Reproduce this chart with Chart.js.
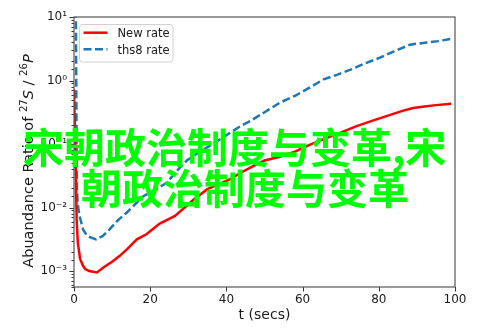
<!DOCTYPE html>
<html>
<head>
<meta charset="utf-8">
<script src="https://cdn.jsdelivr.net/npm/chart.js@4/dist/chart.umd.min.js"></script>
<style>
  html, body { margin: 0; padding: 0; background: #ffffff; }
  #wrap { width: 493px; height: 329px; }
</style>
</head>
<body>
<div id="wrap"><canvas id="chart" width="493" height="329"></canvas></div>
<script>
// Abundance ratio of 27S / 26P over time for two rate sets.
const newRateTimes = [0, 0.3, 0.7, 1, 1.6, 2.4, 3, 4, 6, 8, 10, 12, 14, 16.5, 19, 22.5, 26.5, 29, 31.5, 35, 38, 41, 44, 47, 50, 54, 58, 62, 66, 70, 74, 78, 82, 86, 89, 92, 95, 99];
const newRateValues = [0.72, 0.126, 0.0063, 0.0028, 0.00155, 0.0012, 0.00107, 0.001, 0.00095, 0.00117, 0.0014, 0.00174, 0.00224, 0.00316, 0.0038, 0.0056, 0.0074, 0.01, 0.0135, 0.0195, 0.0234, 0.028, 0.036, 0.045, 0.055, 0.063, 0.076, 0.098, 0.123, 0.151, 0.19, 0.23, 0.275, 0.33, 0.37, 0.39, 0.41, 0.43];

const ths8Times = [0.45, 0.75, 1.0, 1.4, 2.4, 3.5, 5.8, 7.5, 9.4, 11.5, 13.8, 16, 18.2, 21.7, 24.5, 27, 29.6, 33, 37, 41, 43.6, 46.2, 50, 54, 58, 61, 65.5, 69, 72.6, 76, 80.3, 84, 88.2, 92.6, 95.5, 99];
const ths8Values = [30, 0.02, 0.0112, 0.00759, 0.00447, 0.00355, 0.00316, 0.00355, 0.00457, 0.0063, 0.0083, 0.0112, 0.0151, 0.0195, 0.0251, 0.038, 0.055, 0.0759, 0.105, 0.151, 0.19, 0.229, 0.316, 0.447, 0.575, 0.724, 1.04, 1.23, 1.48, 1.82, 2.29, 2.88, 3.67, 3.98, 4.17, 4.52];

const seriesLabels = ['New rate', 'ths8 rate'];
const xTickStep = 20;
const xRange = [0, 100];
const yRange = [0.000562, 10];
const overlayLines = ['宋朝政治制度与变革,宋', '朝政治制度与变革'];

const SUP = { '-': '⁻', '0': '⁰', '1': '¹', '2': '²', '3': '³', '4': '⁴', '5': '⁵', '6': '⁶', '7': '⁷', '8': '⁸', '9': '⁹' };
const toSup = (n) => String(n).split('').map(c => SUP[c]).join('');

const toPoints = (xs, ys) => xs.map((x, i) => ({ x: x, y: ys[i] }));

const isDecade = (v) => {
  const e = Math.log10(v);
  return Math.abs(e - Math.round(e)) < 1e-6;
};

const TEXT = '#1a1a1a';
const FONT = '"DejaVu Sans", sans-serif';

// Frame, tick marks, axis titles and legend box.
const decorations = {
  id: 'decorations',
  beforeDatasetsDraw(chart) {
    const { ctx, chartArea: a, scales } = chart;
    ctx.save();
    ctx.strokeStyle = '#333';
    ctx.lineWidth = 1;
    // y tick marks (major long, minor short), outward
    scales.y.ticks.forEach(t => {
      if (t.value < yRange[0] || t.value > yRange[1]) return;
      const py = Math.round(scales.y.getPixelForValue(t.value)) + 0.5;
      const len = isDecade(t.value) ? 4.5 : 2.5;
      ctx.beginPath();
      ctx.moveTo(a.left, py);
      ctx.lineTo(a.left - len, py);
      ctx.stroke();
    });
    // x tick marks
    scales.x.ticks.forEach(t => {
      const px = Math.round(scales.x.getPixelForValue(t.value)) + 0.5;
      ctx.beginPath();
      ctx.moveTo(px, a.bottom);
      ctx.lineTo(px, a.bottom + 4.5);
      ctx.stroke();
    });
    ctx.restore();
  },
  afterDatasetsDraw(chart) {
    const { ctx, chartArea: a } = chart;
    ctx.save();
    // frame
    ctx.strokeStyle = '#555';
    ctx.lineWidth = 1.2;
    ctx.strokeRect(a.left, a.top, a.right - a.left, a.bottom - a.top);

    // legend
    const bx = 79, by = 24, bw = 93.5, bh = 37.5, r = 3;
    ctx.fillStyle = 'rgba(255,255,255,0.85)';
    ctx.strokeStyle = '#d0d0d0';
    ctx.lineWidth = 1;
    ctx.beginPath();
    ctx.roundRect(bx + 0.5, by + 0.5, bw, bh, r);
    ctx.fill();
    ctx.stroke();
    chart.data.datasets.forEach((ds, i) => {
      const ly = 32.7 + i * 16.6;
      ctx.strokeStyle = ds.borderColor;
      ctx.lineWidth = ds.borderWidth;
      ctx.setLineDash(ds.borderDash || []);
      ctx.beginPath();
      ctx.moveTo(83.5, ly);
      ctx.lineTo(107.5, ly);
      ctx.stroke();
      ctx.setLineDash([]);
      ctx.fillStyle = TEXT;
      ctx.font = '11.5px ' + FONT;
      ctx.textBaseline = 'alphabetic';
      ctx.textAlign = 'left';
      ctx.fillText(ds.label, 117.5, ly + 4.6);
    });

    // x axis title
    ctx.fillStyle = TEXT;
    ctx.font = '14px ' + FONT;
    ctx.textAlign = 'center';
    ctx.textBaseline = 'alphabetic';
    ctx.fillText('t (secs)', (a.left + a.right) / 2, 319);

    // y axis title with isotope superscripts
    const size = 14.5;
    const parts = [
      { t: 'Abuandance Ratio of ', f: size + 'px ' + FONT, dy: 0 },
      { t: '27', f: (size * 0.7) + 'px ' + FONT, dy: -size * 0.4 },
      { t: 'S', f: 'italic ' + size + 'px ' + FONT, dy: 0 },
      { t: ' / ', f: size + 'px ' + FONT, dy: 0 },
      { t: '26', f: (size * 0.7) + 'px ' + FONT, dy: -size * 0.4 },
      { t: 'P', f: 'italic ' + size + 'px ' + FONT, dy: 0 }
    ];
    let total = 0;
    parts.forEach(p => { ctx.font = p.f; p.w = ctx.measureText(p.t).width; total += p.w; });
    ctx.translate(33, 161);
    ctx.rotate(-Math.PI / 2);
    ctx.textAlign = 'left';
    let cx = -total / 2;
    parts.forEach(p => {
      ctx.font = p.f;
      ctx.fillText(p.t, cx, p.dy);
      cx += p.w;
    });
    ctx.restore();
  },
  afterDraw(chart) {
    const { ctx } = chart;
    ctx.save();
    ctx.fillStyle = '#00ff00';
    ctx.font = 'bold 41px "Noto Sans CJK SC", sans-serif';
    ctx.textAlign = 'left';
    ctx.textBaseline = 'alphabetic';
    ctx.fillText(overlayLines[0], 23, 163);
    ctx.fillText(overlayLines[1], 81, 204);
    ctx.restore();
  }
};

Chart.defaults.font.family = FONT;
Chart.defaults.color = TEXT;

new Chart(document.getElementById('chart'), {
  type: 'line',
  data: {
    datasets: [
      {
        label: seriesLabels[0],
        data: toPoints(newRateTimes, newRateValues),
        borderColor: '#ff0000',
        borderWidth: 2.5,
        pointRadius: 0,
        tension: 0,
        fill: false
      },
      {
        label: seriesLabels[1],
        data: toPoints(ths8Times, ths8Values),
        borderColor: '#1f77b4',
        borderWidth: 2.5,
        borderDash: [8, 3.5],
        pointRadius: 0,
        tension: 0,
        fill: false
      }
    ]
  },
  options: {
    responsive: false,
    devicePixelRatio: 1,
    animation: false,
    events: [],
    layout: { padding: { top: 17, right: 38, left: 0, bottom: 0 } },
    plugins: { legend: { display: false }, title: { display: false }, tooltip: { enabled: false } },
    scales: {
      x: {
        type: 'linear',
        min: xRange[0],
        max: xRange[1],
        grid: { display: false, drawTicks: false },
        border: { display: false },
        ticks: { stepSize: xTickStep, padding: 6, font: { size: 12 }, color: TEXT, maxRotation: 0 },
        afterFit: (s) => { s.height = 42; }
      },
      y: {
        type: 'logarithmic',
        min: yRange[0],
        max: yRange[1],
        grid: { display: false, drawTicks: false },
        border: { display: false },
        ticks: {
          autoSkip: false,
          padding: 7,
          font: { size: 12 },
          color: TEXT,
          callback: (v) => isDecade(v) ? '10' + toSup(Math.round(Math.log10(v))) : ''
        },
        afterFit: (s) => { s.width = 74; }
      }
    }
  },
  plugins: [decorations]
});
</script>
</body>
</html>
